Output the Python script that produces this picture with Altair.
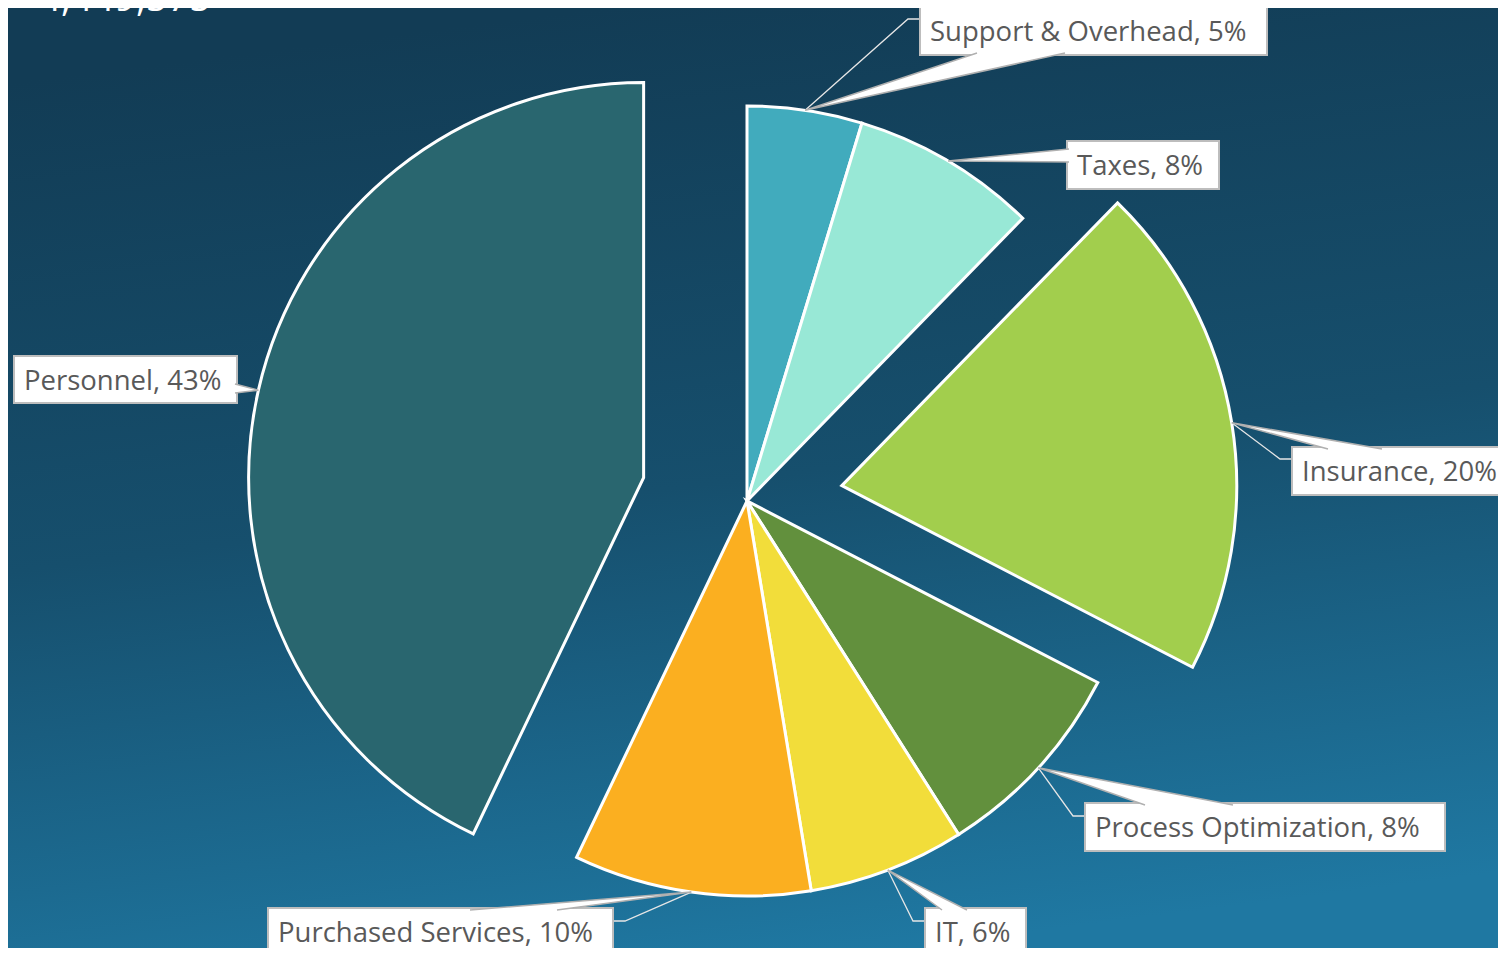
import math
import altair as alt
import pandas as pd

# ---------------- data ----------------
categories = ["Support & Overhead", "Taxes", "Insurance", "Process Optimization",
              "IT", "Purchased Services", "Personnel"]
shares = [4.7, 7.6, 20.3, 8.4, 6.4, 9.7, 42.9]      # percent of total
title_text = "\u2022 4,449,575"

# ---------------- styles / layout ----------------
colors = ["#41ABBD", "#98E8D6", "#A2CE4D", "#62903D", "#F2DD3A", "#FBAF20", "#29666F"]
explode_px = [0, 0, 96, 0, 0, 0, 106]
W, H = 1490, 940
CX, CY = 739, 493          # pie centre inside the view
R = 395
FONT = "Open Sans"

# label boxes (x0, y0, x1, y1), offsets from pie centre
boxes = [(173, -494, 520, -446), (320, -360, 472, -312), (545, -54, 768, -6),
         (338, 302, 698, 350), (178, 407, 279, 455), (-479, 407, -134, 455),
         (-733, -145, -510, -98)]
# callout pointer base segments (x, y, x, y)
bases = [(230, -448, 318, -448), (322, -352, 322, -339), (581, -52, 635, -52),
         (398, 304, 486, 304), (195, 409, 220, 409), (-277, 409, -190, 409),
         (-512, -117, -512, -108)]
# thin leader elbows (elbow, end) or None
elbows = [((161, -482), (173, -482)), None, ((533, -42), (545, -42)),
          ((326, 315), (338, 315)), ((166, 420), (178, 420)),
          ((-122, 420), (-134, 420)), None]

xs = alt.Scale(domain=[-CX, W - CX], range=[0, W], nice=False, zero=False)
ys = alt.Scale(domain=[-CY, H - CY], range=[0, H], nice=False, zero=False)

df = pd.DataFrame({"idx": range(len(categories)), "category": categories,
                   "share": shares, "explode": explode_px})

# ---------- background ----------
bg = alt.Chart(pd.DataFrame({"a": [0]})).mark_rect(
    fill=alt.Gradient(gradient="linear", x1=0.4, y1=0, x2=0.6, y2=1,
                      stops=[alt.GradientStop(color="#123C55", offset=0),
                             alt.GradientStop(color="#164F6D", offset=0.5),
                             alt.GradientStop(color="#1F78A2", offset=1)])
).encode(x=alt.value(0), x2=alt.value(W), y=alt.value(0), y2=alt.value(H))

# ---------- pie ----------
pie = alt.Chart(df).transform_window(
    cum="sum(share)", sort=[alt.SortField("idx")], frame=[None, 0]
).transform_calculate(
    start="datum.cum - datum.share"
).transform_calculate(
    mid="(datum.cum - datum.share / 2) / 100 * 2 * PI"
).transform_calculate(
    ox="datum.explode * sin(datum.mid)",
    oy="-datum.explode * cos(datum.mid)",
).mark_arc(stroke="white", strokeWidth=3, strokeJoin="miter", radius=R).encode(
    theta=alt.Theta("start:Q", stack=False,
                    scale=alt.Scale(domain=[0, 100], range=[0, 2 * math.pi])),
    theta2="cum:Q",
    x=alt.X("ox:Q", scale=xs, axis=None),
    y=alt.Y("oy:Q", scale=ys, axis=None),
    color=alt.Color("category:N", scale=alt.Scale(domain=categories, range=colors), legend=None),
)

# ---------- label geometry ----------
tips = []
cum = 0
for s, e in zip(shares, explode_px):
    mid = (cum + s / 2) / 100 * 2 * math.pi
    cum += s
    tips.append(((R + e) * math.sin(mid), -(R + e) * math.cos(mid)))

box_rows, text_rows, ptr_rows, lead_rows = [], [], [], []
for i, (c, s) in enumerate(zip(categories, shares)):
    x0, y0, x1, y1 = boxes[i]
    box_rows.append({"k": c, "x0": x0, "y0": y0, "x1": x1, "y1": y1})
    text_rows.append({"k": c, "tx": x0 + 10, "ty": (y0 + y1) / 2 + 10,
                      "label": f"{c}, {round(s)}%"})
    bx1, by1, bx2, by2 = bases[i]
    tx, ty = tips[i]
    for o, (px, py) in enumerate([(bx1, by1), (tx, ty), (bx2, by2)]):
        ptr_rows.append({"k": c, "o": o, "px": px, "py": py})
    if elbows[i] is not None:
        (ex, ey), (fx, fy) = elbows[i]
        for o, (px, py) in enumerate([(tx, ty), (ex, ey), (fx, fy)]):
            lead_rows.append({"k": c, "o": o, "px": px, "py": py})

leaders = alt.Chart(pd.DataFrame(lead_rows)).mark_line(
    stroke="#E6E6E6", strokeWidth=1.3
).encode(x=alt.X("px:Q", scale=xs, axis=None), y=alt.Y("py:Q", scale=ys, axis=None),
         detail="k:N", order="o:Q")

box_layer = alt.Chart(pd.DataFrame(box_rows)).mark_rect(
    fill="white", stroke="#BDBDBD", strokeWidth=2
).encode(x=alt.X("x0:Q", scale=xs, axis=None), x2="x1:Q",
         y=alt.Y("y0:Q", scale=ys, axis=None), y2="y1:Q")

pointers = alt.Chart(pd.DataFrame(ptr_rows)).mark_line(
    fill="white", stroke="#B0B0B0", strokeWidth=1.5, strokeJoin="miter"
).encode(x=alt.X("px:Q", scale=xs, axis=None), y=alt.Y("py:Q", scale=ys, axis=None),
         detail="k:N", order="o:Q")

texts = alt.Chart(pd.DataFrame(text_rows)).mark_text(
    align="left", baseline="alphabetic", font=FONT, fontSize=27.5, color="#595959"
).encode(x=alt.X("tx:Q", scale=xs, axis=None), y=alt.Y("ty:Q", scale=ys, axis=None),
         text="label:N")

title = alt.Chart(pd.DataFrame({"t": [title_text], "x": [-732], "y": [-490]})).mark_text(
    align="left", baseline="alphabetic", font=FONT, fontSize=38, color="white"
).encode(x=alt.X("x:Q", scale=xs, axis=None), y=alt.Y("y:Q", scale=ys, axis=None), text="t:N")

chart = alt.layer(bg, pie, leaders, box_layer, pointers, texts, title).properties(
    width=W, height=H, padding=0, autosize="none"
).configure_view(strokeWidth=0)

chart.save("out.html", embed_options={"renderer": "svg", "actions": False})
